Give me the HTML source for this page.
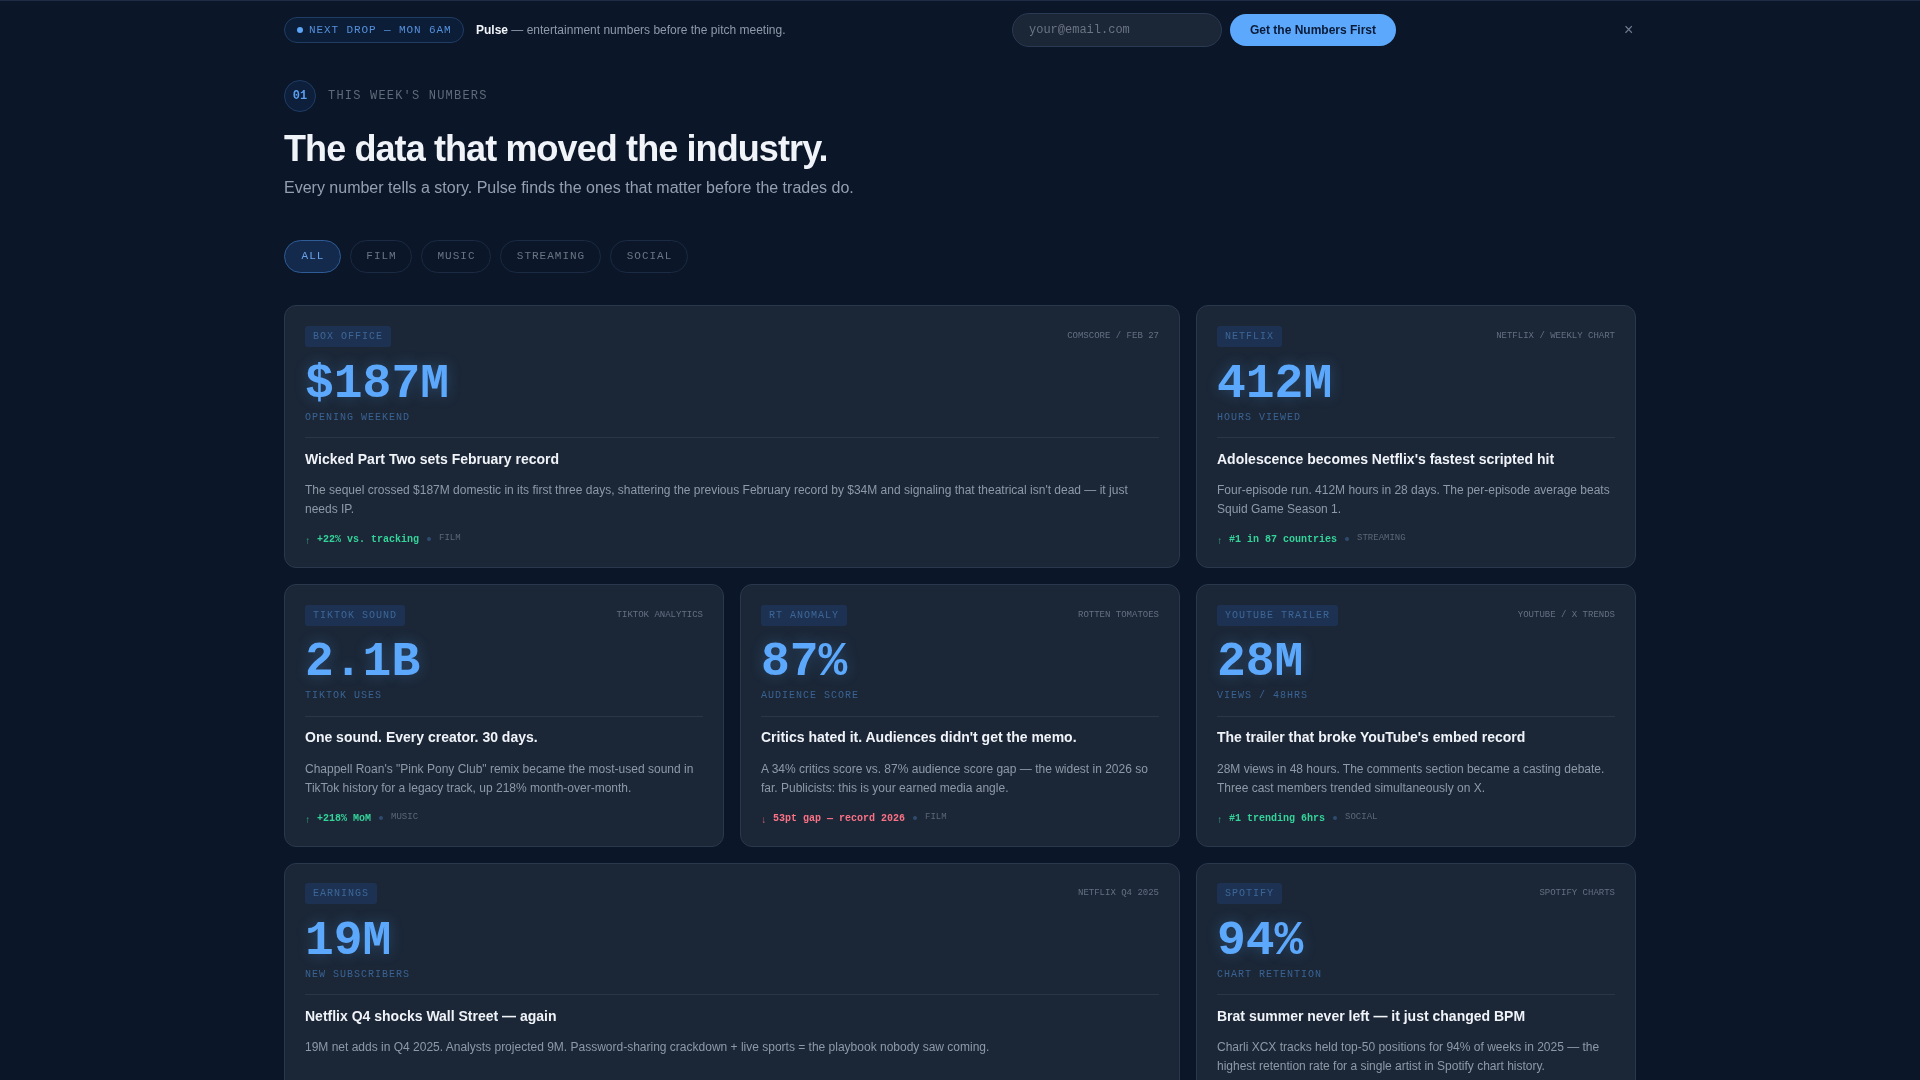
<!DOCTYPE html>
<html><head><meta charset="utf-8">
<style>
*{box-sizing:border-box;margin:0;padding:0}
html,body{width:1920px;height:1080px;overflow:hidden}
body{background:#0b1628;font-family:"Liberation Sans",sans-serif;color:#e8edf4;position:relative}
.topline{position:absolute;left:0;top:0;width:1920px;height:1px;background:#1e2d45}
.mono{font-family:"Liberation Mono",monospace}
.abs{position:absolute}
.pill{left:284px;top:17px;width:180px;height:26px;border:1px solid #203d64;background:#0c1d37;border-radius:13px}
.pill .dot{position:absolute;left:12px;top:9px;width:6px;height:6px;border-radius:50%;background:#5aa5f5}
.pill .t{position:absolute;left:24px;top:5px;font-size:11px;letter-spacing:0.9px;color:#5590dc;white-space:nowrap;line-height:14px}
.tag1{left:476px;top:22px;font-size:12px;line-height:16px;color:#8f9aab;white-space:nowrap}
.tag1 b{color:#f2f5f9}
.email{left:1012px;top:13px;width:210px;height:34px;border-radius:17px;background:#1b2636;border:1px solid #2a3a54}
.email span{position:absolute;left:16px;top:8px;font-size:12px;color:#6a7484;line-height:16px}
.btn{left:1230px;top:14px;width:166px;height:32px;border-radius:16px;background:#5ca8fc;color:#0a1a36;font-weight:bold;font-size:12px;text-align:center;line-height:32px}
.close{left:1624px;top:20px;font-size:16px;color:#717d90;line-height:20px}
.num{left:284px;top:80px;width:32px;height:32px;border-radius:50%;border:1px solid #1f3d66;background:#0d1f3a;color:#5a9ef0;font-size:12px;font-weight:bold;text-align:center;line-height:30px}
.eyebrow{left:328px;top:89px;font-size:12px;letter-spacing:1.2px;color:#5f6a7a;line-height:14px;white-space:nowrap}
h1{position:absolute;left:284px;top:127px;font-size:36px;line-height:44px;font-weight:bold;color:#f0f3f8;letter-spacing:-0.9px;white-space:nowrap}
.sub{left:284px;top:178px;font-size:16px;line-height:20px;color:#94a0b2;white-space:nowrap}
.f{top:240px;height:33px;border-radius:17px;border:1px solid #1b2b43;text-align:center;padding-left:1px;font-size:11px;letter-spacing:1px;color:#6a7585;line-height:30px}
.f.on{background:#132a4c;border-color:#2f5c96;color:#6aa2ea}
.card{position:absolute;background:#1b2737;border:1px solid #29384d;border-radius:12px;padding:20px}
.card .tg{position:absolute;left:20px;top:20px;height:21px;padding:0 8px;background:#1d3252;border-radius:3px;font-size:10px;letter-spacing:1px;color:#3d6698;line-height:21px;white-space:nowrap}
.card .src{position:absolute;right:20px;top:24px;font-size:9px;letter-spacing:0;color:#647083;line-height:12px;white-space:nowrap}
.card .big{position:absolute;left:20px;top:50px;font-size:48px;font-weight:bold;color:#5ca8fc;line-height:56px;text-shadow:0 0 14px rgba(92,168,252,0.28)}
.card .lbl{position:absolute;left:20px;top:106px;font-size:10px;letter-spacing:1px;color:#3a6394;line-height:12px;white-space:nowrap}
.card .hr{position:absolute;left:20px;right:20px;top:131px;height:1px;background:#2a3648}
.card .ttl{position:absolute;left:20px;top:143px;font-size:14px;font-weight:bold;color:#f0f3f8;line-height:20px;white-space:nowrap}
.card .body{position:absolute;left:20px;right:20px;top:175px;font-size:12px;color:#8e99a8;line-height:19.2px}
.card .ft{position:absolute;left:20px;top:227px;font-size:10px;line-height:14px;white-space:nowrap;display:flex;align-items:center;gap:8px}
.card.r2 .big,.card.r2 .lbl,.card.r2 .ttl{margin-top:-1px}
.card.r3 > div{margin-top:-1px}
.card .ft .up{color:#34d399;font-weight:bold}
.card .ft .dn{color:#fb7185;font-weight:bold}
.card .ft .sep{width:4px;height:4px;border-radius:50%;background:#2e4b70;display:block;position:relative;top:-1px}
.card .ft .cat{color:#5c6677;font-size:9px;position:relative;top:-2px}
.card .ft i{font-style:normal;position:relative;top:2px;opacity:.75;font-weight:normal}
</style></head><body>
<div class="topline"></div><div id="wrap" style="position:absolute;left:0;top:0;width:1920px;height:1080px;will-change:transform">
<div class="abs pill"><span class="dot"></span><span class="t mono">NEXT DROP — MON 6AM</span></div>
<div class="abs tag1"><b>Pulse</b> — entertainment numbers before the pitch meeting.</div>
<div class="abs email"><span class="mono">your@email.com</span></div>
<div class="abs btn">Get the Numbers First</div>
<div class="abs close">×</div>

<div class="abs num mono">01</div>
<div class="abs eyebrow mono">THIS WEEK'S NUMBERS</div>
<h1>The data that moved the industry.</h1>
<div class="abs sub">Every number tells a story. Pulse finds the ones that matter before the trades do.</div>
<div class="abs f on mono" style="left:284px;width:57px">ALL</div><div class="abs f mono" style="left:350px;width:62px">FILM</div><div class="abs f mono" style="left:421px;width:70px">MUSIC</div><div class="abs f mono" style="left:500px;width:101px">STREAMING</div><div class="abs f mono" style="left:610px;width:78px">SOCIAL</div>

<div class="card" style="left:284px;top:305px;width:896px;height:263px">
<div class="tg mono">BOX OFFICE</div><div class="src mono">COMSCORE / FEB 27</div>
<div class="big mono">$187M</div><div class="lbl mono">OPENING WEEKEND</div><div class="hr"></div>
<div class="ttl">Wicked Part Two sets February record</div>
<div class="body">The sequel crossed $187M domestic in its first three days, shattering the previous February record by $34M and signaling that theatrical isn't dead — it just needs IP.</div>
<div class="ft mono"><span class="up"><i>↑</i> +22% vs. tracking</span><span class="sep"></span><span class="cat">FILM</span></div>
</div>

<div class="card" style="left:1196px;top:305px;width:440px;height:263px">
<div class="tg mono">NETFLIX</div><div class="src mono">NETFLIX / WEEKLY CHART</div>
<div class="big mono">412M</div><div class="lbl mono">HOURS VIEWED</div><div class="hr"></div>
<div class="ttl">Adolescence becomes Netflix's fastest scripted hit</div>
<div class="body">Four-episode run. 412M hours in 28 days. The per-episode average beats Squid Game Season 1.</div>
<div class="ft mono"><span class="up"><i>↑</i> #1 in 87 countries</span><span class="sep"></span><span class="cat">STREAMING</span></div>
</div>

<div class="card r2" style="left:284px;top:584px;width:440px;height:263px">
<div class="tg mono">TIKTOK SOUND</div><div class="src mono">TIKTOK ANALYTICS</div>
<div class="big mono">2.1B</div><div class="lbl mono">TIKTOK USES</div><div class="hr"></div>
<div class="ttl">One sound. Every creator. 30 days.</div>
<div class="body">Chappell Roan's "Pink Pony Club" remix became the most-used sound in TikTok history for a legacy track, up 218% month-over-month.</div>
<div class="ft mono"><span class="up"><i>↑</i> +218% MoM</span><span class="sep"></span><span class="cat">MUSIC</span></div>
</div>

<div class="card r2" style="left:740px;top:584px;width:440px;height:263px">
<div class="tg mono">RT ANOMALY</div><div class="src mono">ROTTEN TOMATOES</div>
<div class="big mono">87%</div><div class="lbl mono">AUDIENCE SCORE</div><div class="hr"></div>
<div class="ttl">Critics hated it. Audiences didn't get the memo.</div>
<div class="body">A 34% critics score vs. 87% audience score gap — the widest in 2026 so far. Publicists: this is your earned media angle.</div>
<div class="ft mono"><span class="dn"><i>↓</i> 53pt gap — record 2026</span><span class="sep"></span><span class="cat">FILM</span></div>
</div>

<div class="card r2" style="left:1196px;top:584px;width:440px;height:263px">
<div class="tg mono">YOUTUBE TRAILER</div><div class="src mono">YOUTUBE / X TRENDS</div>
<div class="big mono">28M</div><div class="lbl mono">VIEWS / 48HRS</div><div class="hr"></div>
<div class="ttl">The trailer that broke YouTube's embed record</div>
<div class="body">28M views in 48 hours. The comments section became a casting debate. Three cast members trended simultaneously on X.</div>
<div class="ft mono"><span class="up"><i>↑</i> #1 trending 6hrs</span><span class="sep"></span><span class="cat">SOCIAL</span></div>
</div>

<div class="card r3" style="left:284px;top:863px;width:896px;height:263px">
<div class="tg mono">EARNINGS</div><div class="src mono">NETFLIX Q4 2025</div>
<div class="big mono">19M</div><div class="lbl mono">NEW SUBSCRIBERS</div><div class="hr"></div>
<div class="ttl">Netflix Q4 shocks Wall Street — again</div>
<div class="body">19M net adds in Q4 2025. Analysts projected 9M. Password-sharing crackdown + live sports = the playbook nobody saw coming.</div>
</div>

<div class="card r3" style="left:1196px;top:863px;width:440px;height:263px">
<div class="tg mono">SPOTIFY</div><div class="src mono">SPOTIFY CHARTS</div>
<div class="big mono">94%</div><div class="lbl mono">CHART RETENTION</div><div class="hr"></div>
<div class="ttl">Brat summer never left — it just changed BPM</div>
<div class="body">Charli XCX tracks held top-50 positions for 94% of weeks in 2025 — the highest retention rate for a single artist in Spotify chart history.</div>
</div>
</div></body></html>
